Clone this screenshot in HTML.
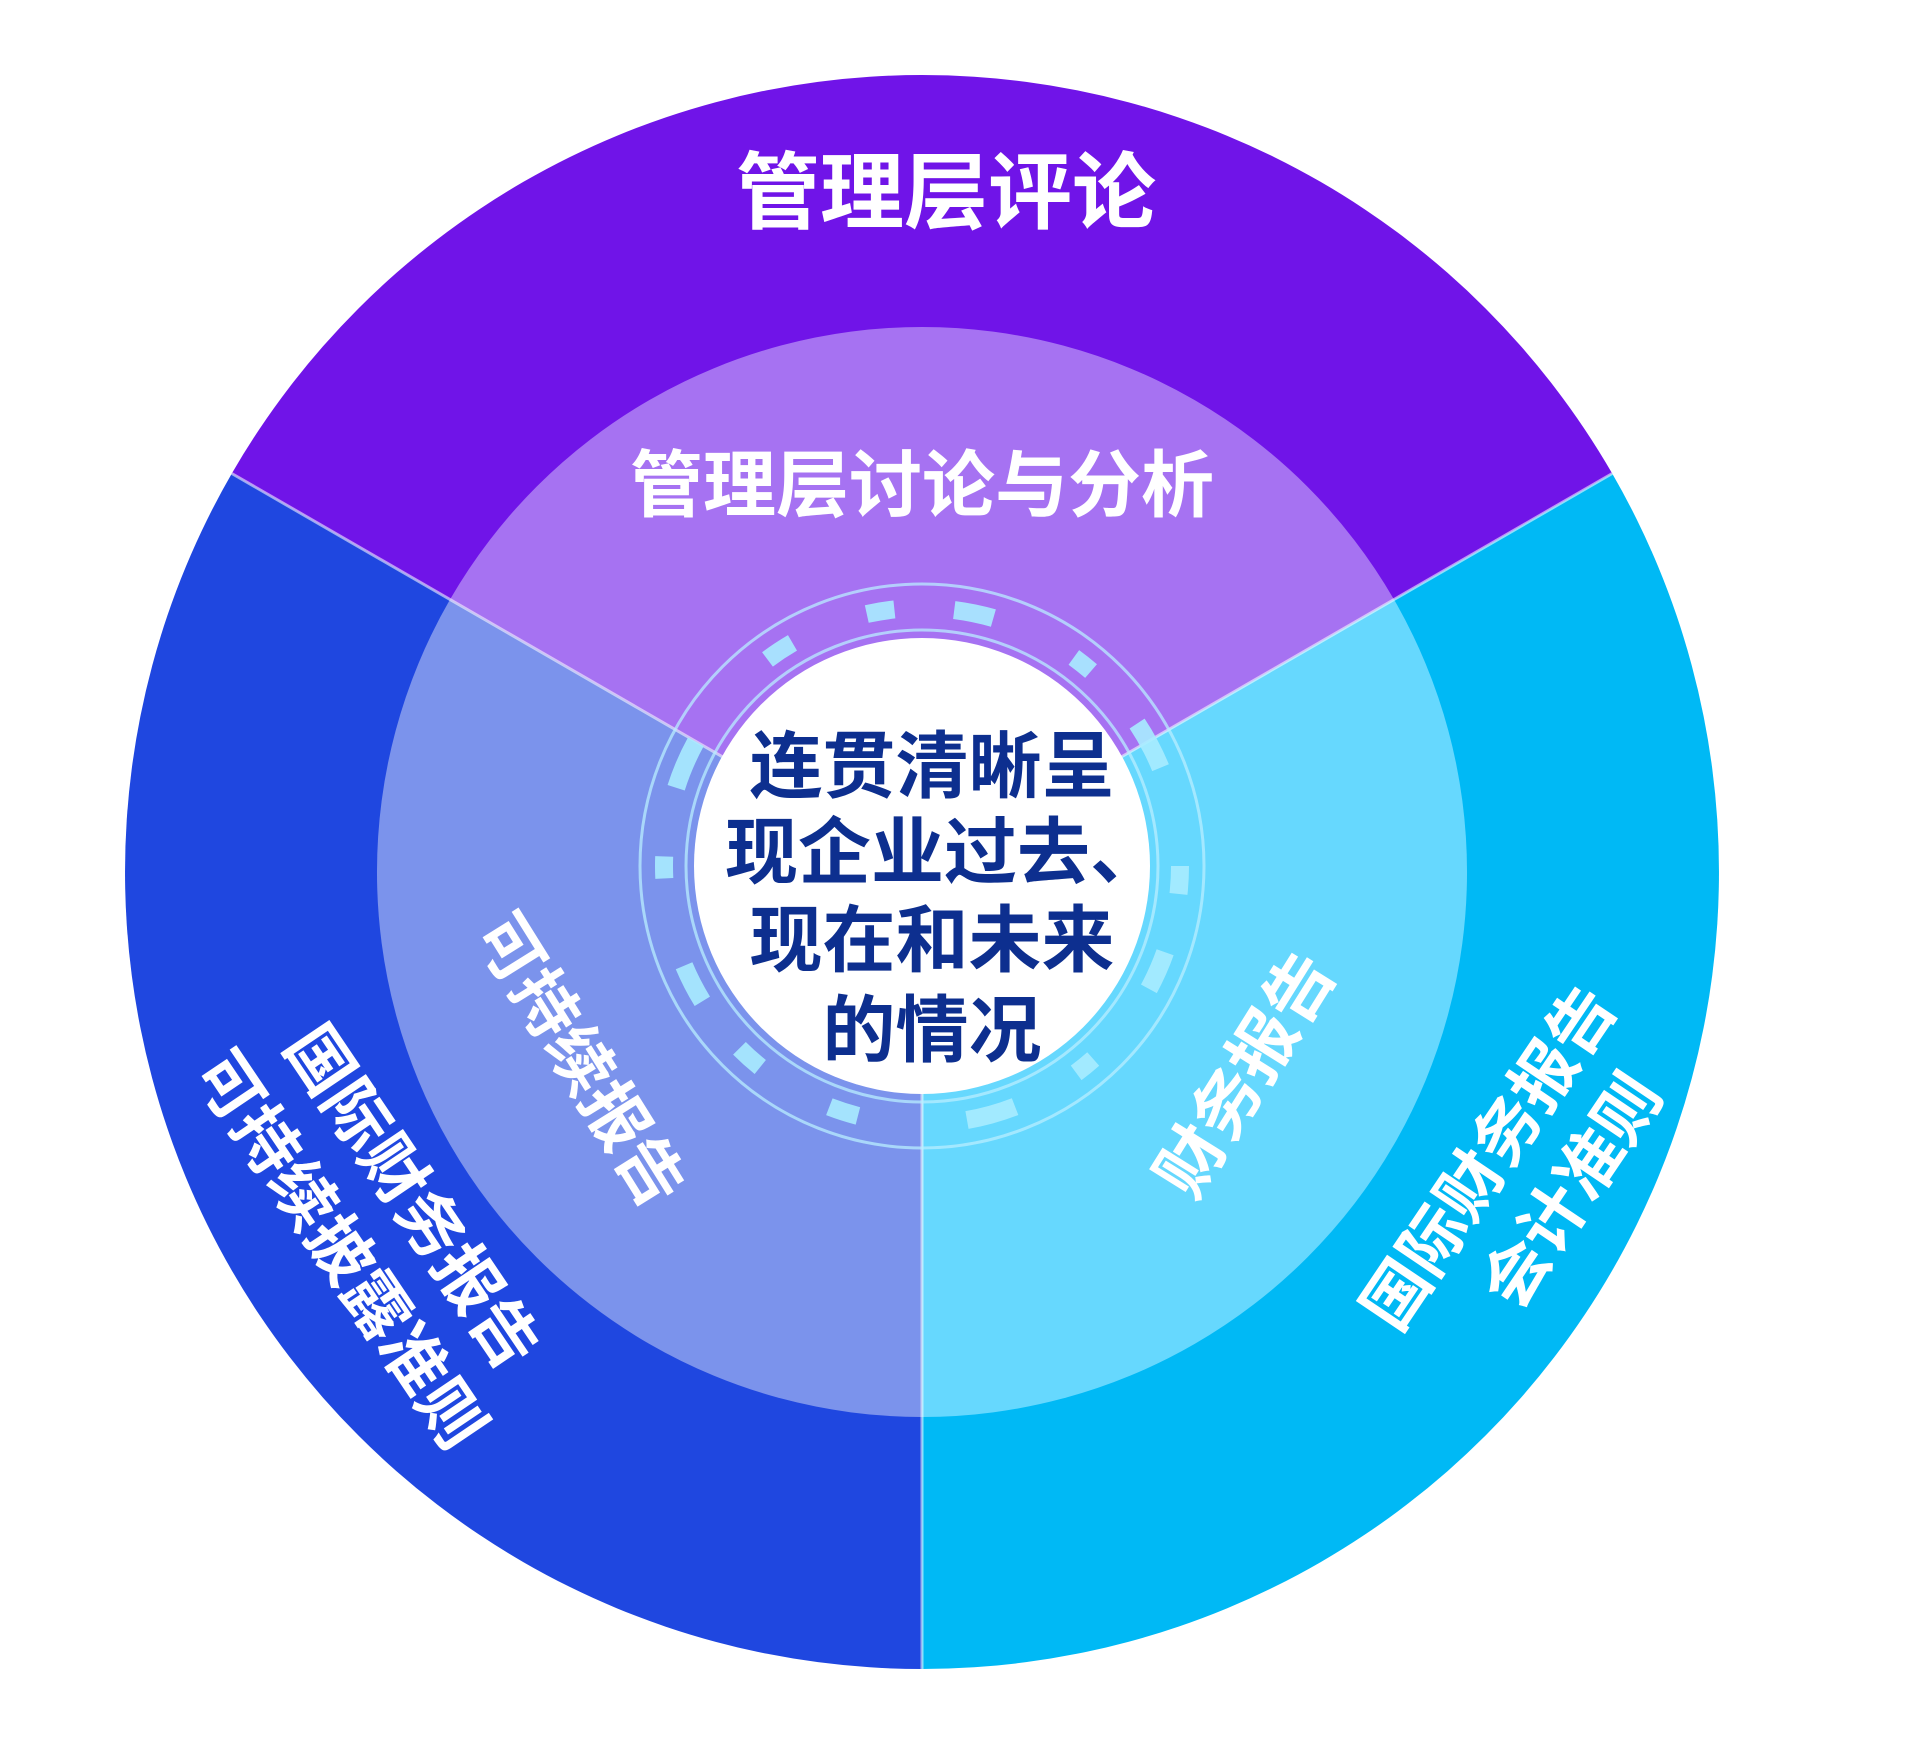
<!DOCTYPE html>
<html><head><meta charset="utf-8"><style>
html,body{margin:0;padding:0;background:#fff;}
svg{display:block;}
text{font-family:"Liberation Sans","Noto Sans CJK SC","WenQuanYi Zen Hei",sans-serif;font-weight:bold;}
</style></head><body>
<svg width="1918" height="1752" viewBox="0 0 1918 1752" xmlns="http://www.w3.org/2000/svg">
<rect width="1918" height="1752" fill="#fff"/>
<path d="M922 872 L231.8 473.5 A797 797 0 0 1 1612.2 473.5 Z" fill="#7014E8"/>
<path d="M922 872 L1612.2 473.5 A797 797 0 0 1 922 1669 Z" fill="#00B9F5"/>
<path d="M922 872 L922 1669 A797 797 0 0 1 231.8 473.5 Z" fill="#1F47E0"/>
<path d="M922 872 L450 599.5 A545 545 0 0 1 1394 599.5 Z" fill="#A672F2"/>
<path d="M922 872 L1394 599.5 A545 545 0 0 1 922 1417 Z" fill="#66D8FE"/>
<path d="M922 872 L922 1417 A545 545 0 0 1 450 599.5 Z" fill="#7B93EC"/>
<g stroke="#ffffff" stroke-opacity="0.55" stroke-width="3">
<line x1="922" y1="872" x2="231.8" y2="473.5"/>
<line x1="922" y1="872" x2="1612.2" y2="473.5"/>
<line x1="922" y1="872" x2="922" y2="1669"/>
</g>
<g fill="none" stroke="#B8EEFF" stroke-opacity="0.75">
<circle cx="922" cy="866" r="282" stroke-width="3"/>
<circle cx="922" cy="866" r="236" stroke-width="3"/>
</g>
<circle cx="922" cy="866" r="258" fill="none" stroke="#A8ECFF" stroke-width="18" stroke-dasharray="28 60 40 90 22 70 50 110 30 80" stroke-opacity="0.9"/>
<circle cx="922" cy="866" r="228" fill="#fff"/>
<text x="946" y="193" font-size="84" fill="#fff" text-anchor="middle" dominant-baseline="central">管理层评论</text>
<text x="922" y="486" font-size="73" fill="#fff" text-anchor="middle" dominant-baseline="central">管理层讨论与分析</text>
<g fill="#0D2F8F" font-size="73" text-anchor="middle">
<text x="932" y="767" dominant-baseline="central">连贯清晰呈</text>
<text x="944" y="853" dominant-baseline="central">现企业过去、</text>
<text x="932" y="941" dominant-baseline="central">现在和未来</text>
<text x="932" y="1031" dominant-baseline="central">的情况</text>
</g>
<g fill="#fff" text-anchor="middle" dominant-baseline="central">
<text font-size="66" transform="translate(580 1060) rotate(58)">可持续报告</text>
<text font-size="66" transform="translate(412 1197) rotate(56)">国际财务报告</text>
<text font-size="66" transform="translate(340 1250) rotate(56)">可持续披露准则</text>
<text font-size="68" transform="translate(1246 1075) rotate(-58)">财务报告</text>
<text font-size="66" transform="translate(1489 1158) rotate(-56)">国际财务报告</text>
<text font-size="66" transform="translate(1572 1191) rotate(-56)">会计准则</text>
</g>
</svg>
</body></html>
